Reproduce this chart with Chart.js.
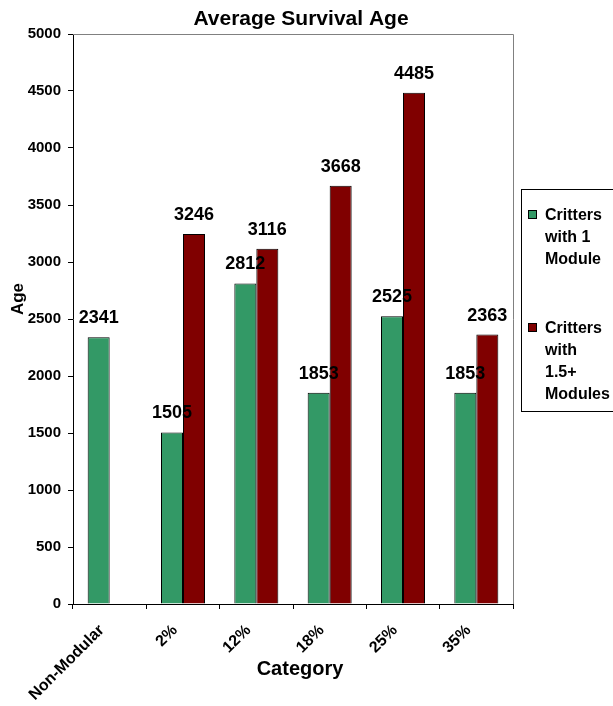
<!DOCTYPE html>
<html>
<head>
<meta charset="utf-8">
<title>Average Survival Age</title>
<script src="https://cdn.jsdelivr.net/npm/chart.js@4.4.1/dist/chart.umd.min.js"></script>
<style>
    html, body { margin: 0; padding: 0; background: #fff; }
    #wrap { position: relative; width: 613px; height: 706px; }
</style>
</head>
<body>
<div id="wrap"><canvas id="survivalChart" width="613" height="706"></canvas></div>
<script>
const categories = ["Non-Modular", "2%", "12%", "18%", "25%", "35%"];
const oneModule = [2341, 1505, 2812, 1853, 2525, 1853];
const multiModule = [null, 3246, 3116, 3668, 4485, 2363];
const seriesNames = [["Critters", "with 1", "Module"], ["Critters", "with", "1.5+", "Modules"]];
const yTicks = [0, 500, 1000, 1500, 2000, 2500, 3000, 3500, 4000, 4500, 5000];

const fontFamily = "'Liberation Sans', Arial, sans-serif";
const green = "#339966";
const darkRed = "#800000";

// value labels above each bar
const barLabels = {
    id: "barLabels",
    afterDatasetsDraw(chart) {
        const ctx = chart.ctx;
        ctx.save();
        ctx.font = "bold 18px " + fontFamily;
        ctx.fillStyle = "#000";
        ctx.textAlign = "center";
        ctx.textBaseline = "alphabetic";
        chart.data.datasets.forEach((ds, i) => {
            chart.getDatasetMeta(i).data.forEach((bar, j) => {
                if (ds.data[j] == null) return;
                ctx.fillText(String(ds.data[j]), bar.x, bar.y - 14);
            });
        });
        ctx.restore();
    },
};

// title, axis titles, grey frame on top/right and the legend box
const frameAndLegend = {
    id: "frameAndLegend",
    afterDraw(chart) {
        const ctx = chart.ctx;
        const a = chart.chartArea;
        ctx.save();
        ctx.strokeStyle = "#808080";
        ctx.lineWidth = 1;
        ctx.beginPath();
        ctx.moveTo(a.left, a.top + 0.5);
        ctx.lineTo(a.right + 0.5, a.top + 0.5);
        ctx.lineTo(a.right + 0.5, a.bottom);
        ctx.stroke();

        ctx.fillStyle = "#000";
        ctx.textAlign = "center";
        ctx.textBaseline = "alphabetic";
        ctx.font = "bold 21px " + fontFamily;
        ctx.fillText("Average Survival Age", 301, 25);

        ctx.font = "bold 20px " + fontFamily;
        ctx.fillText("Category", 300, 675);

        ctx.save();
        ctx.translate(23, 299);
        ctx.rotate(-Math.PI / 2);
        ctx.font = "bold 17px " + fontFamily;
        ctx.fillText("Age", 0, 0);
        ctx.restore();

        ctx.textAlign = "left";
        ctx.strokeStyle = "#000";
        ctx.strokeRect(521.5, 189.5, 120, 222);

        ctx.font = "bold 16px " + fontFamily;
        const starts = [220, 333];
        chart.data.datasets.forEach((ds, i) => {
            const y0 = starts[i];
            ctx.fillStyle = ds.backgroundColor;
            ctx.fillRect(528, y0 - 10, 9, 9);
            ctx.strokeStyle = "#000";
            ctx.strokeRect(528.5, y0 - 9.5, 8, 8);
            ctx.fillStyle = "#000";
            seriesNames[i].forEach((line, k) => {
                ctx.fillText(line, 545, y0 + k * 22);
            });
        });
        ctx.restore();
    },
};

new Chart(document.getElementById("survivalChart"), {
    type: "bar",
    data: {
        labels: categories,
        datasets: [
            {
                label: "Critters with 1 Module",
                data: oneModule,
                backgroundColor: green,
                borderColor: "#000",
                borderWidth: 1,
                categoryPercentage: 0.6,
                barPercentage: 1.0,
            },
            {
                label: "Critters with 1.5+ Modules",
                data: multiModule,
                backgroundColor: darkRed,
                borderColor: "#000",
                borderWidth: 1,
                categoryPercentage: 0.6,
                barPercentage: 1.0,
            },
        ],
    },
    options: {
        responsive: false,
        animation: false,
        layout: { padding: { top: 34, right: 100, bottom: 0, left: 0 } },
        plugins: {
            legend: { display: false },
            tooltip: { enabled: false },
        },
        scales: {
            x: {
                afterFit: (s) => { s.height = 102; },
                grid: {
                    offset: true,
                    drawOnChartArea: false,
                    drawTicks: true,
                    tickLength: 5,
                    color: "#000",
                },
                border: { color: "#000", width: 1 },
                ticks: {
                    color: "#000",
                    maxRotation: 45,
                    minRotation: 45,
                    padding: 12,
                    labelOffset: -8,
                    font: { family: fontFamily, size: 16, weight: "bold" },
                },
            },
            y: {
                min: 0,
                max: 5000,
                afterFit: (s) => { s.width = 73; },
                afterBuildTicks: (s) => { s.ticks = yTicks.map((v) => ({ value: v })); },
                grid: {
                    drawOnChartArea: false,
                    drawTicks: true,
                    tickLength: 5,
                    color: "#000",
                },
                border: { color: "#000", width: 1 },
                ticks: {
                    color: "#000",
                    padding: 7,
                    callback: (v) => String(v),
                    font: { family: fontFamily, size: 15, weight: "bold" },
                },
            },
        },
    },
    plugins: [barLabels, frameAndLegend],
});
</script>
</body>
</html>
